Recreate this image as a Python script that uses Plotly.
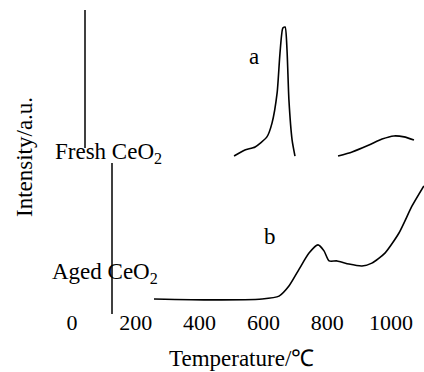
import plotly.graph_objects as go

# x tick labels
tick_vals = [0, 200, 400, 600, 800, 1000]

# Fresh CeO2 (curve a), two segments
a1_T = [508, 542, 574, 611, 627, 643, 652, 661, 668, 674, 680, 690, 699]
a1_I = [50.3, 52.2, 53.2, 56.4, 60.8, 70.4, 83.1, 91.1, 91.4, 84.1, 68.2, 55.4, 50.3]
a2_T = [834, 878, 931, 972, 1009, 1041, 1072]
a2_I = [50.3, 51.6, 53.8, 55.7, 56.7, 56.4, 55.4]

# Aged CeO2 (curve b)
b_T = [257, 439, 596, 649, 680, 712, 743, 771, 790, 806, 831, 868, 909, 940, 981, 1025, 1066, 1103]
b_I = [4.8, 4.5, 4.8, 5.7, 8.9, 14.3, 19.4, 22.0, 20.1, 16.9, 16.9, 15.9, 15.3, 16.2, 19.4, 25.8, 34.4, 40.8]

W, H = 424, 372
B = 65
PH = H - B          # 307 px plot height
SCALE = 3.14        # px per intensity unit
FONT = "Liberation Serif"

y_lo = (314 - PH) / SCALE
y_hi = 100.0

line = dict(color="black", width=1.6, shape="spline", smoothing=0.6)

fig = go.Figure()
fig.add_trace(go.Scatter(x=a1_T, y=a1_I, mode="lines", line=line, showlegend=False))
fig.add_trace(go.Scatter(x=a2_T, y=a2_I, mode="lines", line=line, showlegend=False))
fig.add_trace(go.Scatter(x=b_T, y=b_I, mode="lines", line=line, showlegend=False))

def px2x(px):
    return px / W

def py2y(py):
    return (PH - py) / PH

# vertical scan-artifact axis lines (paper coords)
fig.add_shape(type="line", x0=px2x(85), x1=px2x(85), y0=py2y(10), y1=py2y(148),
              xref="paper", yref="paper", line=dict(color="black", width=1.5))
fig.add_shape(type="line", x0=px2x(112), x1=px2x(112), y0=py2y(163), y1=py2y(314),
              xref="paper", yref="paper", line=dict(color="black", width=1.5))

anns = [
    ("Fresh CeO<sub>2</sub>", 53, 153, "left", 0),
    ("Aged CeO<sub>2</sub>", 50, 273, "left", 0),
    ("a", 254, 57, "center", 0),
    ("b", 270, 236, "center", 0),
    ("Temperature/℃", 241, 358, "center", 0),
    ("Intensity/a.u.", 24, 157, "center", -90),
]
for text, px, py, xa, ang in anns:
    fig.add_annotation(text=text, x=px2x(px), y=py2y(py), xref="paper", yref="paper",
                       xanchor=xa, yanchor="middle", showarrow=False, textangle=ang,
                       font=dict(family=FONT, size=23, color="black"))

x0 = -72 / 0.319
x1 = (W - 72) / 0.319
fig.update_layout(
    width=W, height=H,
    margin=dict(l=0, r=0, t=0, b=B, pad=0),
    paper_bgcolor="white", plot_bgcolor="white",
    xaxis=dict(range=[x0, x1], tickvals=tick_vals, ticktext=[str(v) for v in tick_vals],
               showgrid=False, zeroline=False, showline=False, ticks="",
               tickfont=dict(family=FONT, size=22, color="black")),
    yaxis=dict(range=[y_lo, y_hi], showgrid=False, zeroline=False, showline=False,
               showticklabels=False, ticks=""),
)
fig.write_html("out.html")
